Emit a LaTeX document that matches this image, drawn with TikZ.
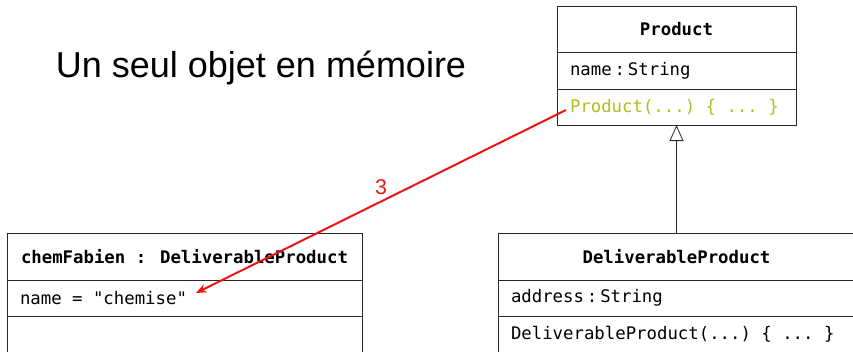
\documentclass[tikz,border=0pt]{standalone}
\usepackage{fontspec}
\setmainfont{Liberation Sans}
\newfontfamily\umlfont{DejaVu Sans Mono}
\newcommand\monospaces{\setlength\spaceskip{.602em}\setlength\xspaceskip{.602em}}
\usetikzlibrary{positioning, arrows.meta}
\definecolor{boxline}{RGB}{40, 40, 40}
\definecolor{ctorcol}{RGB}{178, 190, 30}
\definecolor{callred}{RGB}{238, 20, 20}
\tikzset{
    classhead/.style={draw=boxline, line width=.6pt, inner sep=0pt,
        outer sep=0pt, minimum height=34.5pt,
        font=\umlfont\fontsize{13}{15}\selectfont\bfseries},
    classrow/.style={draw=boxline, line width=.6pt, inner xsep=9.75pt,
        inner ysep=0pt, outer sep=0pt, align=left, minimum height=27pt,
        font=\umlfont\fontsize{13}{15}\selectfont,
        execute at begin node=\monospaces},
    inherits/.style={draw=boxline, line width=.6pt,
        -{Triangle[open, length=12pt, width=10.5pt]}},
    callarrow/.style={draw=callred, line width=1.5pt,
        -{Stealth[length=8pt, width=6.5pt]}},
}

\begin{document}
\begin{tikzpicture}[x=.75pt, y=-.75pt]
    \useasboundingbox (0, 0) rectangle (853, 351);
    \clip (0, 0) rectangle (853, 351);
    \node[font=\fontsize{27}{33}\selectfont, anchor=base] (title) at (261, 77)
        {Un seul objet en mémoire};
    % classe mere
    \node[classhead, minimum width=179.25pt] (product) at (676.5, 29) {Product};
    \node[classrow, text width=159.75pt, minimum height=27.75pt,
        below=0pt of product] (productattr) {name\,:\,String};
    \node[classrow, text width=159.75pt, text=ctorcol,
        below=0pt of productattr] (productctor) {Product(...) \{ ... \}};
    % classe fille
    \node[classhead, minimum width=267.75pt, minimum height=35.25pt]
        (deliverable) at (676.5, 256.5) {DeliverableProduct};
    \node[classrow, text width=248.25pt, below=0pt of deliverable]
        (deliverableattr) {address\,:\,String};
    \node[classrow, text width=248.25pt, below=0pt of deliverableattr]
        (deliverablector) {DeliverableProduct(...) \{ ... \}};
    % objet
    \node[classhead, minimum width=266.25pt, minimum height=35.25pt]
        (chemfabien) at (184.5, 256.5) {chemFabien : DeliverableProduct};
    \node[classrow, text width=246.75pt, below=0pt of chemfabien]
        (chemfabienattr) {name = "chemise"};
    \node[classrow, text width=246.75pt, minimum height=33pt,
        below=0pt of chemfabienattr] (chemfabienrest) {};
    \draw[inherits] (deliverable.north) -- (productctor.south);
    \coordinate (callstart) at (566, 110);
    \coordinate (callend) at (196, 293);
    \draw[callarrow] (callstart) -- (callend) node[midway, above, yshift=1pt,
        text=callred, font=\fontsize{16}{19}\selectfont] (callnum) {3};
\end{tikzpicture}
\end{document}
